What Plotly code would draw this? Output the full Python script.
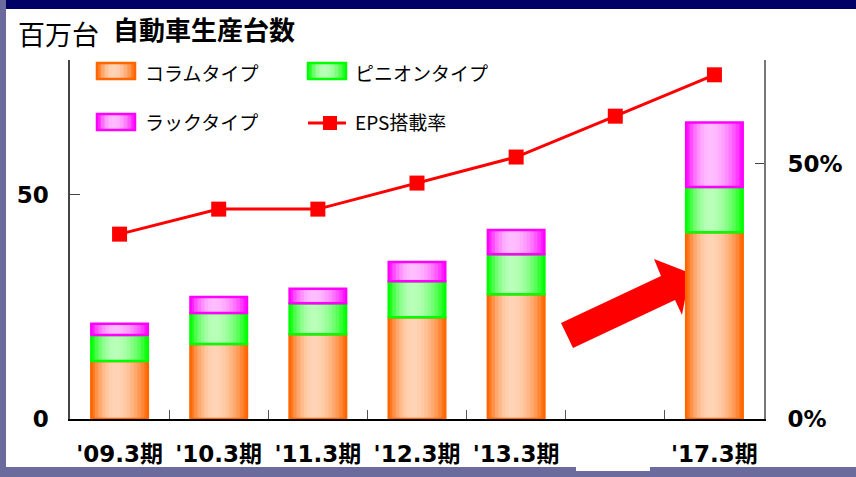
import math
import plotly.graph_objects as go

# ---------------- data ----------------
categories = ["'09.3期", "'10.3期", "'11.3期", "'12.3期", "'13.3期", " ", "'17.3期"]
column_type = [12.9, 16.7, 18.9, 22.7, 27.8, None, 41.6]   # コラムタイプ (百万台)
pinion_type = [5.8, 6.9, 6.9, 8.0, 8.9, None, 10.1]        # ピニオンタイプ
rack_type = [2.5, 3.6, 3.2, 4.3, 5.4, None, 14.4]          # ラックタイプ
eps_rate = [36.2, 41.1, 41.1, 46.2, 51.3, 59.3, 67.4]      # EPS搭載率 (%)

series_names = ["コラムタイプ", "ピニオンタイプ", "ラックタイプ"]
line_name = "EPS搭載率"
left_ticks = [0, 50]
right_ticks = [0, 50]
right_labels = ["0%", "50%"]

# ---------------- layout geometry ----------------
W, H = 856, 477
L, R, T, B = 70, 764, 60, 419


def px(x):
    return (x - L) / (R - L)


def py(y):
    return (B - y) / (B - T)


def mix(c1, c2, f):
    return "rgb(%d,%d,%d)" % tuple(round(a + (b - a) * f) for a, b in zip(c1, c2))


def profile(t):
    peak = 0.42
    u = t / peak if t < peak else (1 - t) / (1 - peak)
    u = max(0.0, min(1.0, u))
    return math.sin(math.pi / 2 * u) ** 0.85


def add(a, b):
    return [None if (x is None or y is None) else x + y for x, y in zip(a, b)]


zero = [None if v is None else 0 for v in column_type]
base_pinion = add(zero, column_type)
base_rack = add(base_pinion, pinion_type)

styles = [
    (column_type, zero, (255, 102, 0), (255, 212, 182)),
    (pinion_type, base_pinion, (0, 255, 0), (185, 255, 185)),
    (rack_type, base_rack, (255, 0, 255), (255, 190, 255)),
]

fig = go.Figure()
bar_w = 0.57
N = 16
for vals, base, edge, center in styles:
    for k in range(N):
        t = (k + 0.5) / N
        off = -bar_w / 2 + k * bar_w / N
        wk = min(bar_w / N * 1.3, bar_w / 2 - off)
        fig.add_trace(go.Bar(
            x=categories, y=vals, base=base, width=wk, offset=off,
            marker=dict(color=mix(edge, center, profile(t)), line=dict(width=0)),
            showlegend=False, hoverinfo="skip",
        ))
    fig.add_trace(go.Bar(
        x=categories, y=vals, base=base, width=bar_w, offset=-bar_w / 2,
        marker=dict(color="rgba(0,0,0,0)", line=dict(color="rgb(%d,%d,%d)" % edge, width=2.5)),
        showlegend=False, hoverinfo="skip",
    ))

fig.add_trace(go.Scatter(
    x=categories, y=eps_rate, yaxis="y2", mode="lines+markers",
    line=dict(color="#FF0000", width=3),
    marker=dict(symbol="square", size=15, color="#FF0000"),
    showlegend=False,
))

tickfont = dict(family="DejaVu Sans, Noto Sans CJK JP", size=23, color="black", weight="bold")

fig.update_layout(
    width=W, height=H,
    margin=dict(l=L, r=W - R, t=T, b=H - B),
    paper_bgcolor="white", plot_bgcolor="white",
    barmode="overlay",
    showlegend=False,
    xaxis=dict(
        type="category", categoryorder="array", categoryarray=categories,
        range=[-0.5, 6.5], showline=True, linecolor="black", linewidth=1.5,
        ticks="inside", tickson="boundaries", ticklen=9, tickcolor="#555",
        tickfont=tickfont, tickangle=0, ticklabelstandoff=14, showgrid=False,
        automargin=False,
    ),
    yaxis=dict(
        range=[0, 80], tickvals=left_ticks, showline=True, linecolor="#444",
        linewidth=1.5, ticks="inside", ticklen=10, tickcolor="#444",
        tickfont=tickfont, ticklabelstandoff=15, showgrid=False, zeroline=False,
        automargin=False,
    ),
    yaxis2=dict(
        overlaying="y", side="right", range=[0, 70.3], tickvals=right_ticks,
        ticktext=right_labels, showline=True, linecolor="#777", linewidth=2,
        ticks="inside", ticklen=9, tickcolor="#444", tickfont=tickfont,
        ticklabelstandoff=17, showgrid=False, zeroline=False, automargin=False,
    ),
)

shapes = []
# frame
shapes.append(dict(type="rect", xref="paper", yref="paper", x0=px(-5), x1=px(6), y0=py(490), y1=py(-5),
                   fillcolor="#6B6B9E", line=dict(width=0), layer="below"))
shapes.append(dict(type="rect", xref="paper", yref="paper", x0=px(6), x1=px(870), y0=py(9), y1=py(-5),
                   fillcolor="#000066", line=dict(width=0), layer="below"))
shapes.append(dict(type="rect", xref="paper", yref="paper", x0=px(-5), x1=px(870), y0=py(490), y1=py(467),
                   fillcolor="#6B6B9E", line=dict(width=0), layer="below"))
shapes.append(dict(type="rect", xref="paper", yref="paper", x0=px(576), x1=px(650), y0=py(471), y1=py(466),
                   fillcolor="white", line=dict(width=0), layer="below"))
# big arrow
pts = [(561, 323), (661, 276), (654, 259), (690, 273), (682, 315), (675, 300), (573, 348)]
path = "M " + " L ".join("%f,%f" % (px(a), py(b)) for a, b in pts) + " Z"
shapes.append(dict(type="path", xref="paper", yref="paper", path=path,
                   fillcolor="#FF0000", line=dict(width=0), layer="below"))

# legend swatches
legend_pos = [(97, 63), (308, 63), (97, 114)]
for (x0, y0), (_, _, edge, center) in zip(legend_pos, styles):
    n = 10
    sw_w, sw_h = 38, 16
    for k in range(n):
        t = (k + 0.5) / n
        shapes.append(dict(type="rect", xref="paper", yref="paper",
                           x0=px(x0 + k * sw_w / n), x1=px(x0 + (k + 1.3) * sw_w / n if k < n - 1 else x0 + sw_w),
                           y0=py(y0 + sw_h), y1=py(y0),
                           fillcolor=mix(edge, center, profile(t)), line=dict(width=0)))
    shapes.append(dict(type="rect", xref="paper", yref="paper", x0=px(x0), x1=px(x0 + sw_w),
                       y0=py(y0 + sw_h), y1=py(y0),
                       line=dict(color="rgb(%d,%d,%d)" % edge, width=2.5)))
# line legend
shapes.append(dict(type="line", xref="paper", yref="paper", x0=px(308), x1=px(346), y0=py(123), y1=py(123),
                   line=dict(color="#FF0000", width=3)))
shapes.append(dict(type="rect", xref="paper", yref="paper", x0=px(323), x1=px(337), y0=py(130), y1=py(116),
                   fillcolor="#FF0000", line=dict(width=0)))
fig.update_layout(shapes=shapes)

ann = []
legend_text = [(143, 72, series_names[0]), (353, 72, series_names[1]),
               (143, 122, series_names[2]), (353, 122, line_name)]
for x, y, txt in legend_text:
    ann.append(dict(xref="paper", yref="paper", x=px(x), y=py(y), text=txt, showarrow=False,
                    xanchor="left", yanchor="middle",
                    font=dict(family="Noto Sans CJK JP", size=19, color="black")))
ann.append(dict(xref="paper", yref="paper", x=px(16), y=py(34), text="百万台", showarrow=False,
                xanchor="left", yanchor="middle",
                font=dict(family="Noto Sans CJK JP", size=27, color="black")))
ann.append(dict(xref="paper", yref="paper", x=px(111), y=py(28), text="自動車生産台数", showarrow=False,
                xanchor="left", yanchor="middle",
                font=dict(family="Noto Sans CJK JP", size=26, color="black", weight="bold")))
fig.update_layout(annotations=ann)

fig.write_html("out.html", config={"displayModeBar": False},
               post_script="document.body.style.margin='0';")
